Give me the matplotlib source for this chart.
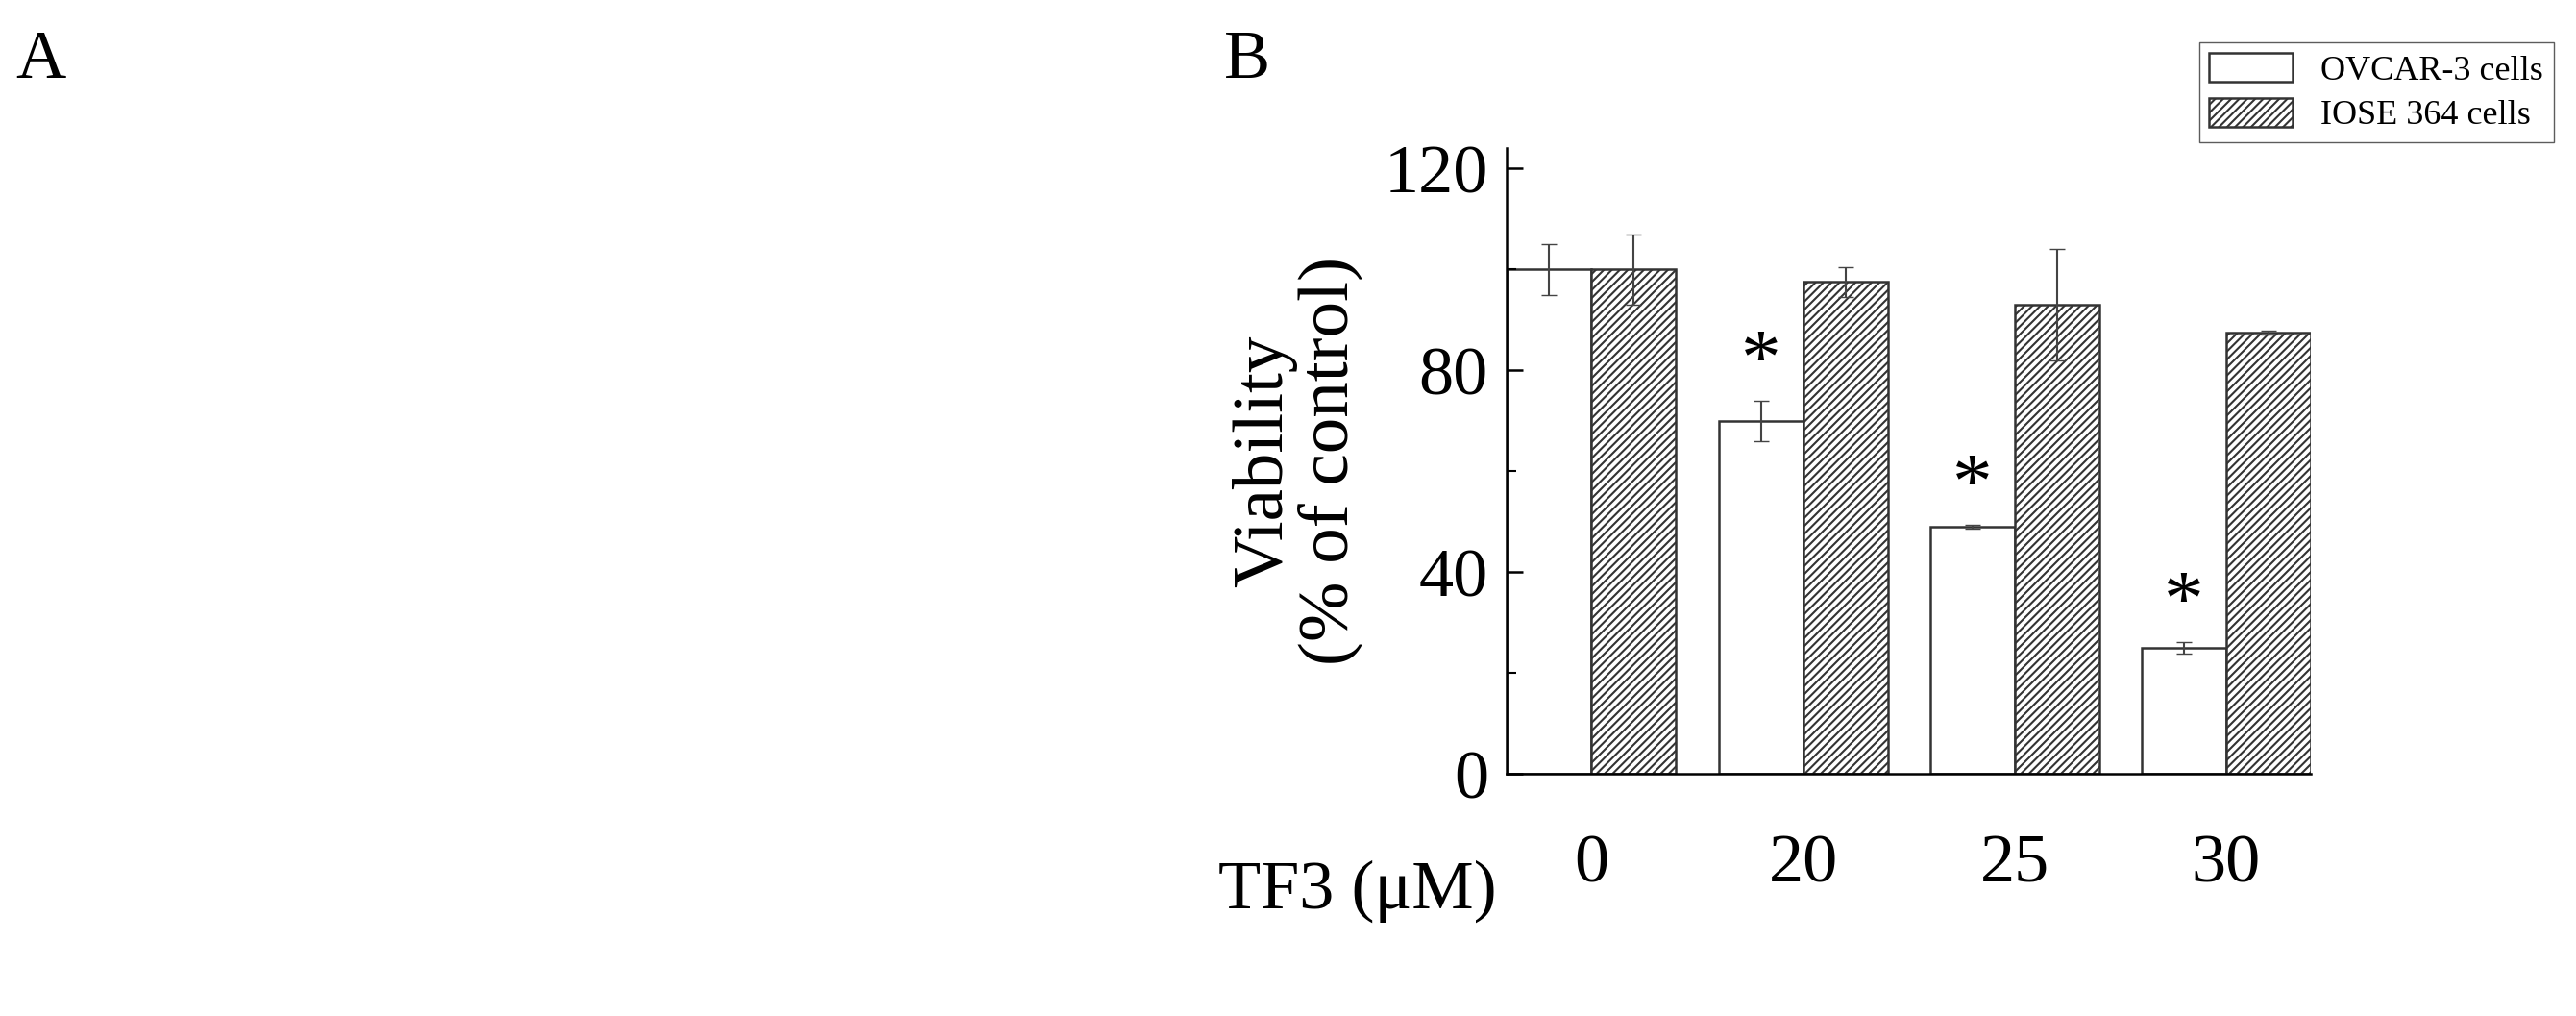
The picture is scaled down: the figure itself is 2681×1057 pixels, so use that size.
import matplotlib
matplotlib.use("Agg")
import matplotlib.pyplot as plt
import numpy as np

plt.rcParams['font.family'] = ['Liberation Serif', 'DejaVu Serif']
plt.rcParams['hatch.color'] = '#555555'
plt.rcParams['hatch.linewidth'] = 1.5

doses = ['0', '20', '25', '30']
ovcar = [100, 70, 49, 25]
ovcar_err = [5, 4, 0.4, 1.2]
iose = [100, 97.5, 93, 87.5]
iose_err = [7, 3, 11, 0.4]
sig = [False, True, True, True]

fig = plt.figure(figsize=(26.81, 10.57), dpi=100)
ax = fig.add_axes([0.585, 0.238, 0.312, 0.616])
x = np.arange(len(doses))
w = 0.4
ax.bar(x - w/2, ovcar, w, yerr=ovcar_err, color='white', edgecolor='#333333', lw=1.8,
       capsize=6, error_kw=dict(lw=1.5, ecolor='#444444'), label='OVCAR-3 cells')
ax.bar(x + w/2, iose, w, yerr=iose_err, color='white', edgecolor='#333333', lw=1.8,
       hatch='////', capsize=6, error_kw=dict(lw=1.5, ecolor='#444444'), label='IOSE 364 cells')
for xi, v, e, s in zip(x, ovcar, ovcar_err, sig):
    if s:
        ax.text(xi - w/2, v + e, '*', ha='center', va='bottom', fontsize=60)
ax.set_xlim(-0.4, 3.4)
ax.set_ylim(0, 124)
ax.set_yticks([0, 40, 80, 120])
ax.set_yticks([20, 60, 100], minor=True)
ax.tick_params(axis='y', direction='in', length=12, width=1.8, labelsize=52, pad=14)
ax.tick_params(axis='y', which='minor', direction='in', length=7, width=1.5)
ax.set_xticks(x)
ax.set_xticklabels(doses, fontsize=52)
ax.tick_params(axis='x', length=0, pad=45)
for s in ['left', 'bottom']:
    ax.spines[s].set_linewidth(1.8)
ax.spines['top'].set_visible(False)
ax.spines['right'].set_visible(False)
ax.set_ylabel('Viability\n(% of control)', fontsize=54, linespacing=1.0, labelpad=16)
fig.text(0.527, 0.123, 'TF3 (μM)', fontsize=52, ha='center', va='center')
fig.legend(loc='upper right', bbox_to_anchor=(0.998, 0.975), fontsize=26,
           frameon=True, fancybox=False, edgecolor='#333333', handlelength=2.4,
           handleheight=0.9, borderpad=0.3, labelspacing=0.3)
fig.text(0.006, 0.94, 'A', fontsize=52, va='center')
fig.text(0.475, 0.94, 'B', fontsize=52, va='center')
fig.savefig('out.png', dpi=100)
